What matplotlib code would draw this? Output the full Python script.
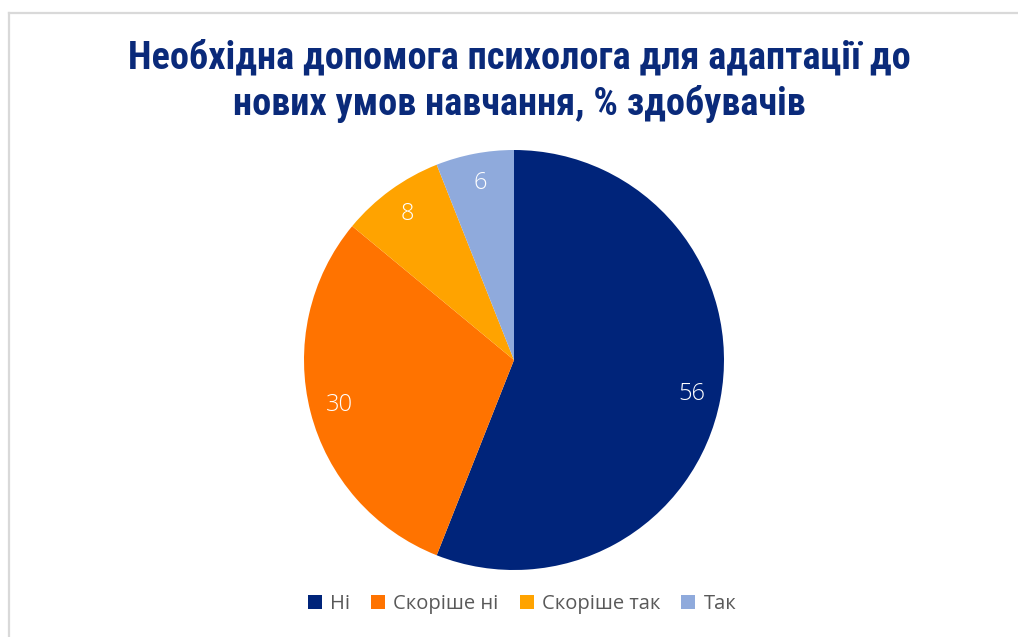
import matplotlib.pyplot as plt
from matplotlib.lines import Line2D
from matplotlib.patches import Patch

# ------------------------
# Data
# ------------------------

title = "Необхідна допомога психолога для адаптації до\nнових умов навчання, % здобувачів"
categories = ["Ні", "Скоріше ні", "Скоріше так", "Так"]
values = [56, 30, 8, 6]
colors = ["#00247A", "#FF7300", "#FFA300", "#8FAADC"]

# ------------------------
# Figure
# ------------------------

W, H = 1018, 637
fig = plt.figure(figsize=(W / 100, H / 100), dpi=100)
fig.patch.set_facecolor("white")

# chart-area frame (only top and left edges visible)
fig.add_artist(Line2D([8.5 / W, 1.0], [1 - 12.5 / H, 1 - 12.5 / H],
                      transform=fig.transFigure, color="#D9D9D9", lw=1.6))
fig.add_artist(Line2D([8.5 / W, 8.5 / W], [0.0, 1 - 12.5 / H],
                      transform=fig.transFigure, color="#D9D9D9", lw=1.6))

fig.text(519 / W, 1 - 81 / H, title, ha="center", va="center",
         fontsize=27.5, fontweight="bold", color="#0A2A7A",
         family=["Roboto Condensed", "Roboto", "DejaVu Sans"],
         linespacing=1.28)

# ------------------------
# Pie
# ------------------------

cx, cy, r = 514, 360, 210
ax = fig.add_axes([(cx - r) / W, (H - cy - r) / H, 2 * r / W, 2 * r / H])
wedges, texts = ax.pie(values, labels=[str(v) for v in values], colors=colors,
                       startangle=90, counterclock=False, radius=1,
                       labeldistance=0.86,
                       wedgeprops=dict(linewidth=0),
                       textprops=dict(color="white", fontsize=17,
                                      family="Open Sans", fontweight="light"))
for t in texts:
    t.set_ha("center")
    t.set_va("center")
ax.set_xlim(-1, 1)
ax.set_ylim(-1, 1)
ax.set_aspect("equal")
ax.axis("off")

# ------------------------
# Legend
# ------------------------

handles = [Patch(facecolor=c, edgecolor="none") for c in colors]
fig.legend(handles, categories, loc="center", bbox_to_anchor=(522 / W, 1 - 604 / H),
           ncol=4, frameon=False, handlelength=0.7, handleheight=0.7,
           handletextpad=0.4, columnspacing=1.05,
           labelcolor="#595959", prop=dict(family="Open Sans", size=14.5))

fig.savefig("out.png", dpi=100, facecolor="white")
